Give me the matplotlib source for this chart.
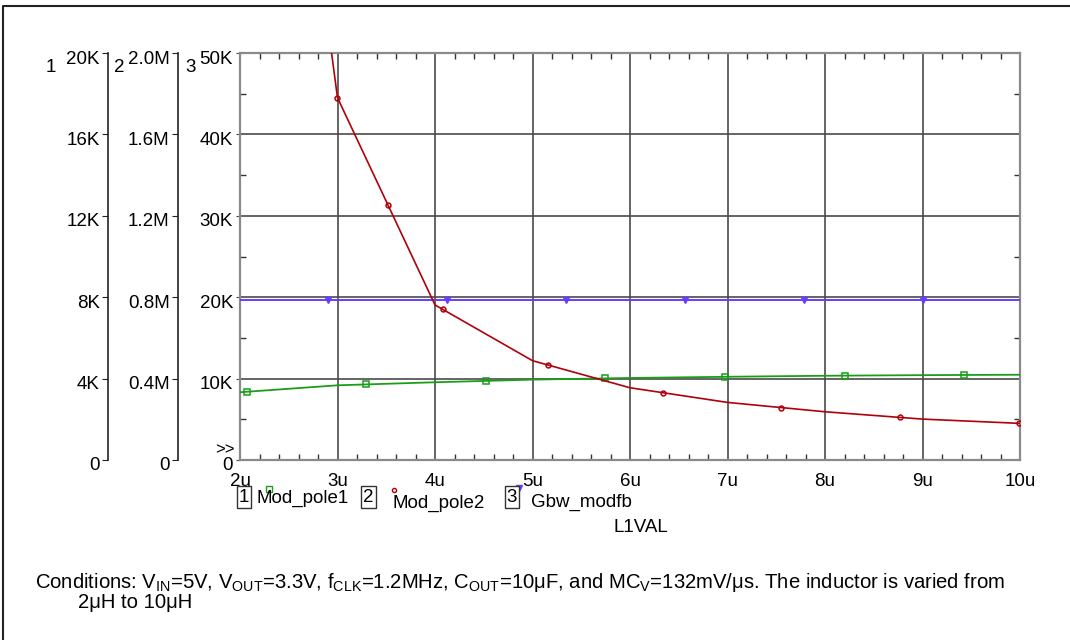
import numpy as np
import matplotlib
matplotlib.use("Agg")
import matplotlib.pyplot as plt
from matplotlib.lines import Line2D
from matplotlib.ticker import MultipleLocator
from matplotlib.transforms import ScaledTranslation

plt.rcParams['font.family'] = ['Liberation Sans', 'DejaVu Sans']
plt.rcParams['mathtext.fontset'] = 'custom'
plt.rcParams['mathtext.rm'] = 'Liberation Sans'

# -------------------------------
# Data
# -------------------------------
inductance = [2, 3, 4, 5, 6, 7, 8, 9, 10]            # uH
mod_pole1 = [3.33, 3.67, 3.82, 3.95, 4.03, 4.09, 4.14, 4.17, 4.19]   # kHz, axis 1
mod_pole2 = [5.4, 1.78, 0.762, 0.488, 0.355, 0.283, 0.237, 0.201, 0.180]  # MHz, axis 2
gbw_modfb = [19.7, 19.7, 19.7, 19.7, 19.7, 19.7, 19.7, 19.7, 19.7]   # kHz, axis 3

x_ticks = [2, 3, 4, 5, 6, 7, 8, 9, 10]
x_labels = ["2u", "3u", "4u", "5u", "6u", "7u", "8u", "9u", "10u"]
ax1_ticks = [0, 4, 8, 12, 16, 20]
ax1_labels = ["0", "4K", "8K", "12K", "16K", "20K"]
ax2_ticks = [0, 0.4, 0.8, 1.2, 1.6, 2.0]
ax2_labels = ["0", "0.4M", "0.8M", "1.2M", "1.6M", "2.0M"]
ax3_ticks = [0, 10, 20, 30, 40, 50]
ax3_labels = ["0", "10K", "20K", "30K", "40K", "50K"]

GREEN = '#1a9e1a'
RED = '#b0000a'
BLUE = '#6a3cff'
FS = 13.5

W, H = 1070, 640
fig = plt.figure(figsize=(W / 100, H / 100), dpi=100)
L, R, T, B = 240, 1020, 53, 460
ax = fig.add_axes([L / W, 1 - B / H, (R - L) / W, (B - T) / H])
ax1 = ax.twinx()
ax2 = ax.twinx()

# main axis (axis 3)
ax.set_xlim(2, 10)
ax.set_ylim(0, 50)
ax.set_xticks(x_ticks, x_labels)
ax.set_yticks(ax3_ticks, ax3_labels)
ax.xaxis.set_minor_locator(MultipleLocator(0.2))
ax.yaxis.set_minor_locator(MultipleLocator(5))
ax.grid(True, which='major', color='#4a4a4a', lw=1.2)
for s in ax.spines.values():
    s.set_color('#8a8a8a')
    s.set_linewidth(1.6)
ax.tick_params(which='major', axis='x', length=0, pad=9, labelsize=FS)
ax.tick_params(which='major', axis='y', direction='out', length=3, pad=2, labelsize=FS,
               color='#4a4a4a')
ax.tick_params(which='minor', direction='in', length=4, top=True, right=True,
               color='#333333', width=1.0)

# axis 1 and axis 2 on the left
for a, pos, lim, ticks, labels in [(ax1, 108, (0, 20), ax1_ticks, ax1_labels),
                                   (ax2, 178, (0, 2.0), ax2_ticks, ax2_labels)]:
    a.set_ylim(*lim)
    a.yaxis.set_ticks_position('left')
    for k in ['top', 'right', 'bottom']:
        a.spines[k].set_visible(False)
    a.spines['left'].set_position(('axes', (pos - L) / (R - L)))
    a.spines['left'].set_color('#222222')
    a.spines['left'].set_linewidth(1.2)
    a.set_yticks(ticks, labels)
    a.tick_params(axis='y', direction='out', length=4, pad=2, labelsize=FS, color='#222222')

# the PSpice labels sit a little below their ticks
shift = ScaledTranslation(0, -4 / 100, fig.dpi_scale_trans)
for a in (ax, ax1, ax2):
    for t in a.get_yticklabels():
        t.set_transform(t.get_transform() + shift)


def markers_along(a, xs, ys, start, step):
    # marker positions evenly spaced along the drawn line (display pixels)
    pts = a.transData.transform(np.column_stack([xs, ys]))
    d = np.concatenate([[0], np.cumsum(np.hypot(*np.diff(pts, axis=0).T))])
    t = np.arange(start, d[-1] + 1, step)
    mp = np.column_stack([np.interp(t, d, pts[:, 0]), np.interp(t, d, pts[:, 1])])
    return a.transData.inverted().transform(mp).T


ax1.plot(inductance, mod_pole1, color=GREEN, lw=1.3)
mx, my = markers_along(ax1, inductance, mod_pole1, 7, 119.6)
ax1.plot(mx, my, ls='none', marker='s', ms=5, mfc='none', mec=GREEN, mew=1.1)

ax2.plot(inductance, mod_pole2, color=RED, lw=1.2)
mx, my = markers_along(ax2, inductance, mod_pole2, 29, 119)
ax2.plot(mx, my, ls='none', marker='o', ms=3.5, mfc='none', mec=RED, mew=1.1)

ax.plot(inductance, gbw_modfb, color=BLUE, lw=1.4, zorder=3)
mx, my = markers_along(ax, inductance, gbw_modfb, 88, 119)
ax.plot(mx, my, ls='none', marker='v', ms=5, color=BLUE, zorder=3)


# -------------------------------
# Figure texts
# -------------------------------
def px(x, y):
    return x / W, 1 - y / H


fig.text(*px(51, 67), "1", fontsize=FS, ha='center', va='center')
fig.text(*px(119, 67), "2", fontsize=FS, ha='center', va='center')
fig.text(*px(191, 67), "3", fontsize=FS, ha='center', va='center')
fig.text(*px(225, 450), ">>", fontsize=12, ha='center', va='center')

box = dict(boxstyle='square,pad=0.12', fc='white', ec='#333333', lw=1.0)
fig.text(*px(244, 497), "1", fontsize=FS, ha='center', va='center', bbox=box)
fig.text(*px(256, 498), "Mod_pole1", fontsize=FS, ha='left', va='center')
fig.text(*px(368, 497), "2", fontsize=FS, ha='center', va='center', bbox=box)
fig.text(*px(393, 503), "Mod_pole2", fontsize=FS, ha='left', va='center')
fig.text(*px(512, 497), "3", fontsize=FS, ha='center', va='center', bbox=box)
fig.text(*px(531, 502), "Gbw_modfb", fontsize=FS, ha='left', va='center')
fig.add_artist(Line2D([269 / W], [1 - 489 / H], marker='s', ms=4, mfc='none', mec=GREEN, mew=1.0))
fig.add_artist(Line2D([394 / W], [1 - 490 / H], marker='o', ms=3, mfc='none', mec=RED, mew=1.0))
fig.add_artist(Line2D([519 / W], [1 - 488 / H], marker='v', ms=4.5, color=BLUE))
fig.text(*px(641, 527), "L1VAL", fontsize=FS, ha='center', va='center')

cap = dict(fontsize=14.6)
fig.text(*px(35, 583),
         r"Conditions: V$_{\rm IN}$=5V, V$_{\rm OUT}$=3.3V, f$_{\rm CLK}$=1.2MHz, "
         r"C$_{\rm OUT}$=10μF, and MC$_{\rm V}$=132mV/μs. The inductor is varied from",
         ha='left', va='center', **cap)
fig.text(*px(78, 603), "2μH to 10μH", ha='left', va='center', **cap)

# outer frame
fig.add_artist(Line2D([3 / W, 3 / W, 1.0], [0.0, 1 - 6 / H, 1 - 6 / H], color='#222222', lw=1.5))

fig.savefig("out.png", dpi=100)
